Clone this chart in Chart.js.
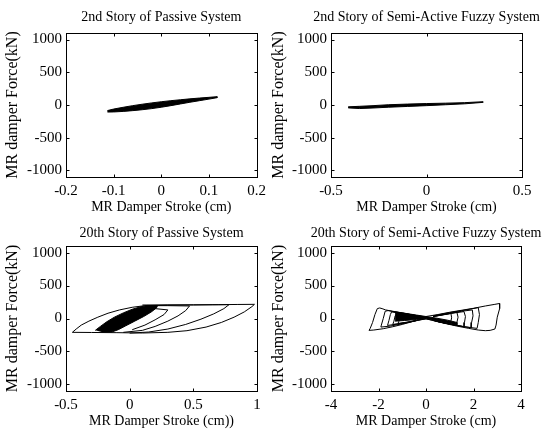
<!DOCTYPE html>
<html><head><meta charset="utf-8">
<script src="https://cdn.jsdelivr.net/npm/chart.js@4.4.1/dist/chart.umd.min.js"></script>
<style>
html,body{margin:0;padding:0;background:#fff;width:543px;height:434px;overflow:hidden;position:relative}
canvas{position:absolute}
</style></head><body>
<script>
// ---------- tick labels / ranges ----------
const yTicks = [-1000, -500, 0, 500, 1000];
const yRange = [-1100, 1100];
const tlXTicks = [-0.2, -0.1, 0, 0.1, 0.2];
const trXTicks = [-0.5, 0, 0.5];
const blXTicks = [-0.5, 0, 0.5, 1];
const brXTicks = [-4, -2, 0, 2, 4];

// ---------- 2nd story, passive (stroke cm, force kN) ----------
const tlBand = [[-0.113,-85],[-0.1,-62],[-0.08,-35],[-0.06,-10],[-0.04,12],[-0.02,32],[0,50],[0.02,66],[0.04,80],[0.06,94],[0.08,106],[0.1,117],[0.117,127],
  [0.117,112],[0.1,90],[0.08,66],[0.06,42],[0.04,16],[0.02,-10],[0,-34],[-0.02,-55],[-0.04,-72],[-0.06,-86],[-0.08,-98],[-0.1,-106],[-0.113,-108]];

// ---------- 2nd story, semi-active fuzzy ----------
const trBand = [[-0.41,-28],[-0.35,-20],[-0.28,-10],[-0.2,4],[-0.1,14],[0,22],[0.1,28],[0.2,36],[0.295,50],
  [0.295,40],[0.2,18],[0.1,4],[0,-10],[-0.1,-22],[-0.2,-34],[-0.28,-46],[-0.35,-54],[-0.41,-44]];

// ---------- 20th story, passive ----------
const blOuter = [[-0.45,-210],[-0.42,-160],[-0.38,-100],[-0.32,-40],[-0.25,20],[-0.17,80],[-0.08,130],[0.02,170],[0.12,195],[0.3,205],[0.5,208],[0.7,210],[0.85,213],[0.98,215],
  [0.96,180],[0.9,100],[0.82,20],[0.72,-60],[0.6,-130],[0.45,-185],[0.3,-210],[0.1,-220],[-0.1,-215],[-0.3,-212],[-0.45,-210]];
const blLoop2 = [[0.1,205],[0.3,205],[0.5,205],[0.65,208],[0.78,210],[0.74,150],[0.66,70],[0.56,-10],[0.44,-90],[0.3,-160],[0.15,-205],[0,-222]];
const blLoop3 = [[0.15,195],[0.3,195],[0.47,190],[0.44,120],[0.38,40],[0.3,-40],[0.2,-120],[0.1,-180],[-0.05,-210]];
const blLoop4 = [[0.1,170],[0.2,150],[0.3,130],[0.27,60],[0.2,-20],[0.12,-100],[0.02,-170]];
const blDense = [[-0.27,-180],[-0.23,-120],[-0.18,-50],[-0.12,20],[-0.05,85],[0.02,140],[0.08,175],[0.14,198],[0.22,198],[0.21,160],[0.17,100],[0.11,30],[0.04,-40],[-0.03,-110],[-0.09,-170],[-0.14,-205],[-0.22,-205]];

// ---------- 20th story, semi-active fuzzy ----------
const brLeftOuter = [[0,20],[-0.5,50],[-1.0,85],[-1.4,110],[-1.7,130],[-1.85,150],[-1.95,160],[-2.05,150],[-2.15,60],[-2.25,-60],[-2.35,-150],[-2.4,-180],[-2.2,-175],[-1.8,-155],[-1.4,-125],[-1.0,-90],[-0.6,-50],[-0.3,-20],[0,0]];
const brLeft2 = [[-0.3,35],[-0.8,70],[-1.3,100],[-1.6,120],[-1.72,110],[-1.8,0],[-1.88,-100],[-1.9,-130],[-1.5,-115],[-1.0,-80],[-0.5,-40],[0,-5]];
const brLeft3 = [[-0.3,30],[-0.8,60],[-1.2,85],[-1.45,100],[-1.5,60],[-1.56,-30],[-1.62,-105],[-1.2,-85],[-0.7,-55],[-0.2,-15]];
const brLeft4 = [[-0.3,30],[-0.8,55],[-1.2,80],[-1.3,40],[-1.35,-40],[-1.4,-90],[-0.9,-65],[-0.4,-30]];
const brLeft5 = [[-0.3,28],[-0.7,50],[-1.05,70],[-1.1,20],[-1.15,-50],[-1.18,-75],[-0.8,-55],[-0.4,-28]];
const brRightOuter = [[0,30],[0.5,60],[1.0,95],[1.5,125],[2.0,155],[2.5,190],[2.9,215],[3.1,228],[3.1,150],[3.0,20],[2.95,-100],[2.9,-160],[2.7,-180],[2.5,-185],[2.2,-175],[1.8,-150],[1.3,-115],[0.8,-75],[0.4,-40],[0,-5]];
const brRight2 = [[0.3,40],[1.0,90],[1.6,125],[2.2,165],[2.25,60],[2.2,-60],[2.15,-150],[1.6,-125],[1.0,-85],[0.4,-40]];
const brRight3 = [[0.3,35],[1.0,80],[1.5,110],[1.95,130],[1.98,40],[1.92,-60],[1.9,-140],[1.2,-100],[0.6,-55]];
const brRight4 = [[0.3,32],[1.0,75],[1.6,105],[1.66,30],[1.62,-60],[1.6,-125],[1.0,-85],[0.4,-40]];
const brRight5 = [[0.3,30],[0.9,70],[1.3,95],[1.35,20],[1.3,-60],[1.28,-100],[0.8,-70],[0.3,-30]];
const brRight6 = [[0.3,28],[0.8,60],[1.05,75],[1.08,10],[1.04,-50],[1.0,-80],[0.6,-55],[0.3,-28]];
const brDense = [[-1.3,100],[-0.9,80],[-0.4,52],[0,30],[0.4,8],[0.9,-25],[1.3,-60],[1.3,-100],[0.9,-68],[0.4,-34],[0,-5],[-0.4,-15],[-0.9,-30],[-1.3,-40]];

// ---------- helpers ----------
const FAMILY = "'Liberation Serif','Times New Roman',serif";
const pts = a => a.map(p => ({x: p[0], y: p[1]}));
const line = a => ({data: pts(a), showLine: true, pointRadius: 0, borderColor: '#000', borderWidth: 1, fill: false, tension: 0});
const solid = a => ({data: pts(a), showLine: true, pointRadius: 0, borderColor: '#000', borderWidth: 1, backgroundColor: '#000', fill: 'shape', tension: 0});

const boxPlugin = {
  id: 'boxTicks',
  afterLayout(chart) {
    const s = chart.scales.xt;
    s.left -= 60; s.right += 60; s.width = s.right - s.left;
  },
  afterDraw(chart) {
    const {ctx, chartArea: a, scales} = chart;
    const L = Math.round(a.left) + 0.5, R = Math.round(a.right) + 0.5, T = Math.round(a.top) + 0.5, B = Math.round(a.bottom) + 0.5;
    ctx.save();
    ctx.strokeStyle = '#000'; ctx.lineWidth = 1;
    ctx.strokeRect(L, T, R - L, B - T);
    ctx.beginPath();
    scales.x.ticks.forEach(t => {
      const px = Math.round(scales.x.getPixelForValue(t.value)) + 0.5;
      ctx.moveTo(px, B); ctx.lineTo(px, B - 3);
      ctx.moveTo(px, T); ctx.lineTo(px, T + 3);
    });
    scales.y.ticks.forEach(t => {
      const py = Math.round(scales.y.getPixelForValue(t.value)) + 0.5;
      ctx.moveTo(L, py); ctx.lineTo(L + 3, py);
      ctx.moveTo(R, py); ctx.lineTo(R - 3, py);
    });
    ctx.stroke();
    ctx.restore();
  }
};

function panel(cv, area, title, xLabel, xTicks, datasets, pads) {
  const c = document.createElement('canvas');
  c.width = cv[2]; c.height = cv[3];
  c.style.left = cv[0] + 'px'; c.style.top = cv[1] + 'px';
  document.body.appendChild(c);
  const yW = area[0] - cv[0], topH = area[1] - cv[1];
  const padR = cv[0] + cv[2] - area[2], botH = cv[1] + cv[3] - area[3];
  new Chart(c, {
    type: 'scatter',
    data: {datasets},
    plugins: [boxPlugin],
    options: {
      responsive: false, animation: false, devicePixelRatio: 1, events: [],
      layout: {padding: {left: 0, top: 0, bottom: 0, right: padR}},
      plugins: {legend: {display: false}, tooltip: {enabled: false}},
      scales: {
        x: {
          type: 'linear', position: 'bottom', min: xTicks[0], max: xTicks[xTicks.length - 1],
          afterBuildTicks: s => { s.ticks = xTicks.map(v => ({value: v})); },
          afterFit: s => { s.height = botH; },
          ticks: {padding: 5, color: '#000', font: {family: FAMILY, size: 15}, maxRotation: 0, autoSkip: false, callback: v => String(v)},
          grid: {display: false, drawTicks: false}, border: {display: false},
          title: {display: true, text: xLabel, color: '#000', font: {family: FAMILY, size: 14}, padding: {top: 0, bottom: pads.xl}}
        },
        xt: {
          type: 'linear', position: 'top', display: true,
          afterFit: s => { s.height = topH; },
          ticks: {display: false}, grid: {display: false, drawTicks: false}, border: {display: false},
          title: {display: true, text: title, color: '#000', font: {family: FAMILY, size: 14}, padding: {top: pads.t, bottom: 0}}
        },
        y: {
          type: 'linear', position: 'left', min: yRange[0], max: yRange[1],
          afterBuildTicks: s => { s.ticks = yTicks.map(v => ({value: v})); },
          afterFit: s => { s.width = yW; },
          ticks: {padding: 4, color: '#000', font: {family: FAMILY, size: 15}, callback: v => String(v)},
          grid: {display: false, drawTicks: false}, border: {display: false},
          title: {display: true, text: 'MR damper Force(kN)', color: '#000', font: {family: FAMILY, size: 16}, padding: {top: pads.yl, bottom: 0}}
        }
      }
    }
  });
}

panel([0, 0, 271, 217], [66, 33, 257, 177], '2nd Story of Passive System', 'MR Damper Stroke (cm)', tlXTicks,
  [solid(tlBand)], {t: 8.6, xl: 1.6, yl: 3.4});
panel([268, 0, 275, 217], [331, 33, 522, 177], '2nd Story of Semi-Active Fuzzy System', 'MR Damper Stroke (cm)', trXTicks,
  [solid(trBand)], {t: 8.6, xl: 1.6, yl: 1.4});
panel([0, 217, 268, 217], [66, 246, 257, 391], '20th Story of Passive System', 'MR Damper Stroke (cm))', blXTicks,
  [line(blOuter), line(blLoop2), line(blLoop3), line(blLoop4), solid(blDense)], {t: 7.6, xl: 4.6, yl: 3.4});
panel([268, 217, 275, 217], [331, 246, 521, 391], '20th Story of Semi-Active Fuzzy System', 'MR Damper Stroke (cm)', brXTicks,
  [line(brLeftOuter), line(brLeft2), line(brLeft3), line(brLeft4), line(brLeft5), line(brRightOuter), line(brRight2), line(brRight3), line(brRight4), line(brRight5), line(brRight6), solid(brDense)], {t: 7.6, xl: 4.6, yl: 1.4});
</script>
</body></html>
